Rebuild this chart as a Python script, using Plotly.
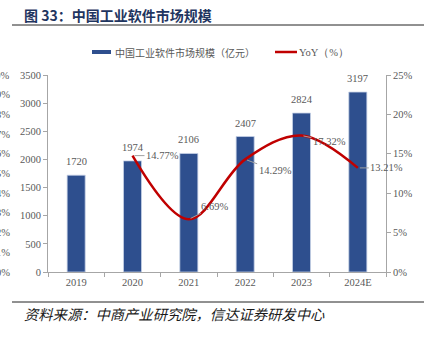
import plotly.graph_objects as go

years = ["2019", "2020", "2021", "2022", "2023", "2024E"]
market_size = [1720, 1974, 2106, 2407, 2824, 3197]
yoy_years = ["2020", "2021", "2022", "2023", "2024E"]
yoy = [14.77, 6.69, 14.29, 17.32, 13.21]
yoy_labels = ["14.77%", "6.69%", "14.29%", "17.32%", "13.21%"]
label_offsets = [(30, 0), (26, -13), (30, 11), (28, 6), (29, 0)]
left_cut_labels = ["0%", "1%", "2%", "3%", "4%", "5%", "6%", "7%", "8%", "9%", "10%"]

W, H = 432, 337
ML, MR, MT, MB = 48, 46, 75, 65
PW, PH = W - ML - MR, H - MT - MB

def px(x):
    return (x - ML) / PW

def py(y):
    return (H - MB - y) / PH

serif = "Liberation Serif"
cjk = "Noto Sans CJK SC"
gray = "#595959"
axis_gray = "#A6A6A6"

fig = go.Figure()
fig.add_trace(go.Bar(
    x=years, y=market_size, width=0.32,
    marker=dict(color="#2E4F8E", line=dict(color="#C5D0E6", width=0.8)),
    showlegend=False,
))
fig.add_trace(go.Scatter(
    x=yoy_years, y=yoy, yaxis="y2", mode="lines",
    line=dict(color="#C00000", width=2.5, shape="spline", smoothing=1.0),
    showlegend=False,
))

annotations = []
for i, v in enumerate(market_size):
    annotations.append(dict(
        x=i, y=v, xref="x", yref="y", text=str(v), showarrow=False,
        yanchor="bottom", yshift=6,
        font=dict(family=serif, size=10.5, color=gray),
    ))

for xv, yv, lab, (ax, ay) in zip(yoy_years, yoy, yoy_labels, label_offsets):
    annotations.append(dict(
        x=years.index(xv), y=yv, xref="x", yref="y2", text=lab, showarrow=True,
        arrowhead=0, arrowwidth=1, arrowcolor="#A0A0A0", ax=ax, ay=ay,
        standoff=2, font=dict(family=serif, size=10.5, color=gray),
    ))

for i, lab in enumerate(left_cut_labels):
    annotations.append(dict(
        x=px(12), y=i / 10, xref="paper", yref="paper", text=lab,
        showarrow=False, xanchor="right", yanchor="middle",
        font=dict(family=serif, size=10.5, color=gray),
    ))

# title
annotations.append(dict(
    x=px(22), y=py(15), xref="paper", yref="paper", xanchor="left", yanchor="middle",
    text="<b>图 33：中国工业软件市场规模</b>", showarrow=False,
    font=dict(family=cjk, size=14, color="#1F3560"),
))
# source
annotations.append(dict(
    x=px(22), y=py(313), xref="paper", yref="paper", xanchor="left", yanchor="middle",
    text="<i>资料来源：中商产业研究院，信达证券研发中心</i>", showarrow=False,
    font=dict(family=cjk, size=14.3, color="#1A1A1A"),
))
# legend texts
annotations.append(dict(
    x=px(113), y=py(52), xref="paper", yref="paper", xanchor="left", yanchor="middle",
    text="中国工业软件市场规模（亿元）", showarrow=False,
    font=dict(family=cjk, size=10, color=gray),
))
annotations.append(dict(
    x=px(297), y=py(52), xref="paper", yref="paper", xanchor="left", yanchor="middle",
    text="YoY（%）", showarrow=False,
    font=dict(family=serif, size=10.5, color=gray),
))

shapes = [
    dict(type="line", xref="paper", yref="paper", x0=px(12), x1=px(424), y0=py(25), y1=py(25),
         line=dict(color="#222222", width=1)),
    dict(type="line", xref="paper", yref="paper", x0=px(12), x1=px(424), y0=py(302), y1=py(302),
         line=dict(color="#222222", width=1)),
    dict(type="rect", xref="paper", yref="paper", x0=px(92), x1=px(111), y0=py(54), y1=py(50),
         fillcolor="#2E4F8E", line=dict(width=0)),
    dict(type="line", xref="paper", yref="paper", x0=px(275), x1=px(297), y0=py(52), y1=py(52),
         line=dict(color="#C00000", width=2.5)),
]

fig.update_layout(
    width=W, height=H,
    margin=dict(l=ML, r=MR, t=MT, b=MB),
    paper_bgcolor="white", plot_bgcolor="white",
    annotations=annotations, shapes=shapes,
    xaxis=dict(type="category", range=[-0.5, 5.5], tickson="boundaries",
               ticks="outside", ticklen=4, tickcolor=axis_gray,
               showline=True, linecolor=axis_gray, linewidth=1, showgrid=False,
               tickfont=dict(family=serif, size=10.5, color=gray)),
    yaxis=dict(range=[0, 3500], dtick=500, ticks="outside", ticklen=4, tickcolor=axis_gray,
               showline=True, linecolor=axis_gray, linewidth=1, showgrid=False, zeroline=False,
               tickfont=dict(family=serif, size=10.5, color=gray)),
    yaxis2=dict(range=[0, 25], dtick=5, ticksuffix="%", overlaying="y", side="right",
                ticks="outside", ticklen=4, tickcolor=axis_gray,
                showline=True, linecolor=axis_gray, linewidth=1, showgrid=False, zeroline=False,
                tickfont=dict(family=serif, size=10.5, color=gray)),
)

fig.write_html("out.html")
